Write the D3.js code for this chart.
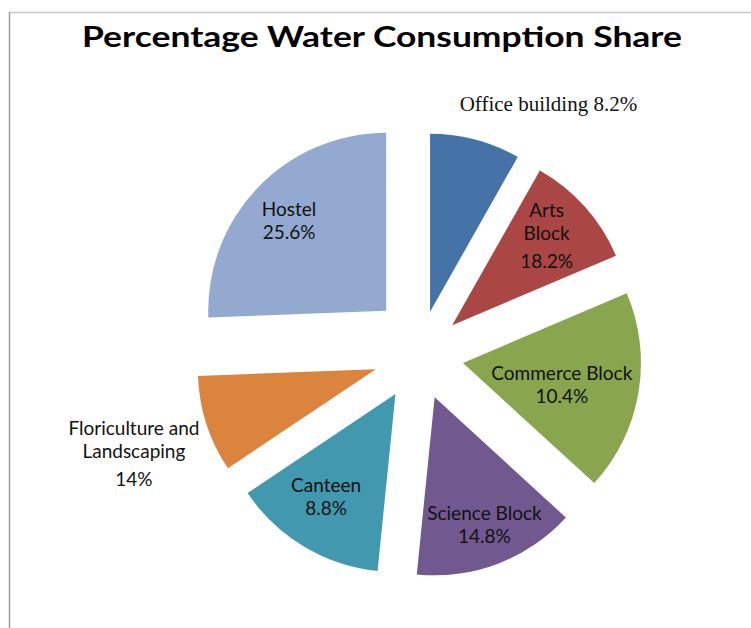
<!DOCTYPE html>
<html>
<head>
<meta charset="utf-8">
<script src="https://cdn.jsdelivr.net/npm/d3@7"></script>
<style>
  body { margin: 0; background: #fff; }
  svg { display: block; }
</style>
</head>
<body>
<svg id="chart" width="751" height="628"></svg>
<script>
// Slices, clockwise from 12 o'clock
const categories = ['Office building', 'Arts Block', 'Commerce Block', 'Science Block', 'Canteen', 'Floriculture and Landscaping', 'Hostel'];
const values = [8.2, 10.4, 18.2, 14.8, 14, 8.8, 25.6];

// Label text exactly as it appears on the chart
const labelLines = [
  ['Office building 8.2%'],
  ['Arts', 'Block', '18.2%'],
  ['Commerce Block', '10.4%'],
  ['Science Block', '14.8%'],
  ['Canteen', '8.8%'],
  ['Floriculture and', 'Landscaping', '14%'],
  ['Hostel', '25.6%']
];

const colors = ['#4572a7', '#aa4643', '#89a54e', '#71588f', '#4198af', '#db843d', '#93a9cf'];

// layout
const width = 751, height = 628;
const cx = 418.6, cy = 355.3, radius = 178;
// explosion distance and direction tweak (deg) per slice
const explode = [45, 45, 45, 45, 45, 45, 55];
const explodeShift = [0, 0, 0, 0, 0, 0, 10];
// label placement: distance (fraction of radius) and angle shift (deg) from slice bisector
const labelDist = [1.34, 0.73, 0.569, 0.771, 0.698, 1.44, 0.744];
const labelShift = [15, -1.6, 2.8, -0.4, 3, -1.3, -1.1];

const svg = d3.select('#chart');

// chart frame (only top and left edges are visible)
svg.append('line')
  .attr('x1', 9).attr('y1', 12.5).attr('x2', width).attr('y2', 12.5)
  .attr('stroke', '#c8c8c8').attr('stroke-width', 1.5);
svg.append('line')
  .attr('x1', 9.5).attr('y1', 12).attr('x2', 9.5).attr('y2', height)
  .attr('stroke', '#9a9a9a').attr('stroke-width', 1.5);

// Title
svg.append('text')
  .attr('x', 382)
  .attr('y', 47)
  .attr('text-anchor', 'middle')
  .attr('textLength', 600)
  .attr('lengthAdjust', 'spacingAndGlyphs')
  .style('font-family', 'Lato, "Open Sans", sans-serif')
  .style('font-weight', 'bold')
  .style('font-size', '28px')
  .attr('fill', '#000')
  .text('Percentage Water Consumption Share');

const pieData = d3.pie().sort(null).value(d => d)(values);
const arc = d3.arc().innerRadius(0).outerRadius(radius);

const g = svg.append('g').attr('transform', `translate(${cx},${cy})`);

const offset = (d, i) => {
  const a = (d.startAngle + d.endAngle) / 2 + explodeShift[i] * Math.PI / 180;
  return [Math.sin(a) * explode[i], -Math.cos(a) * explode[i]];
};

g.selectAll('path.slice')
  .data(pieData)
  .join('path')
  .attr('class', 'slice')
  .attr('transform', (d, i) => `translate(${offset(d, i)})`)
  .attr('d', arc)
  .attr('fill', (d, i) => colors[i]);

// Data labels
pieData.forEach((d, i) => {
  const [ox, oy] = offset(d, i);
  const a = (d.startAngle + d.endAngle) / 2 + labelShift[i] * Math.PI / 180;
  const r = labelDist[i] * radius;
  const lx = ox + Math.sin(a) * r;
  const ly = oy - Math.cos(a) * r;

  const lines = labelLines[i];
  const gaps = lines.map((l, k) => k === 0 ? 0 : (lines.length === 3 && k === 2 ? 28 : 23.5));
  const span = d3.sum(gaps);
  let y = ly - span / 2 + 6.5;

  const serif = i === 0;
  const t = g.append('text')
    .attr('text-anchor', 'middle')
    .attr('fill', '#111')
    .style('font-family', serif ? '"Liberation Serif", "Times New Roman", serif' : 'Lato, "Open Sans", sans-serif')
    .style('font-size', serif ? '21px' : '19px');

  lines.forEach((line, k) => {
    y += gaps[k];
    t.append('tspan')
      .attr('x', lx)
      .attr('y', y)
      .text(line);
  });
});
</script>
</body>
</html>
